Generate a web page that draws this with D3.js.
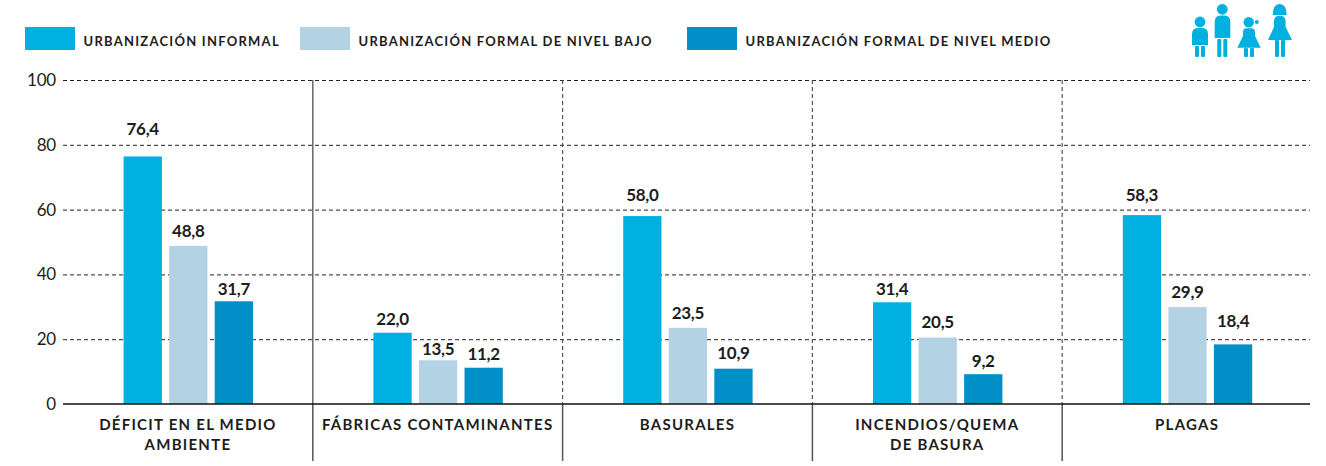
<!DOCTYPE html>
<html>

<head>
  <meta charset="utf8">
  <script src="https://d3js.org/d3.v7.min.js"></script>
  <style>
    body { margin: 0; background: #fff; }
    text { font-family: Lato, "Noto Sans", sans-serif; fill: #1d1d1b; }
    .grid line { stroke: #222; stroke-dasharray: 4 3; }
    .grid path, .y-axis path { display: none; }
    .y-axis text { font-size: 17px; letter-spacing: -0.2px; }
    .x-axis path { stroke: #111; stroke-width: 1.5; }
    .x-axis text { font-size: 15px; font-weight: 700; letter-spacing: 1.25px; }
    .value { font-size: 17px; font-weight: 700; text-anchor: middle; letter-spacing: -0.3px; }
    .legend text { font-size: 13px; font-weight: 700; letter-spacing: 1.25px; }
    .icons * { fill: #00b0e0; }
  </style>
</head>

<body>
  <svg id="chart" width="1326" height="466"></svg>

  <script>
    var categories = ['DÉFICIT EN EL MEDIO|AMBIENTE', 'FÁBRICAS CONTAMINANTES', 'BASURALES', 'INCENDIOS/QUEMA|DE BASURA', 'PLAGAS'];
    var seriesNames = ['URBANIZACIÓN INFORMAL', 'URBANIZACIÓN FORMAL DE NIVEL BAJO', 'URBANIZACIÓN FORMAL DE NIVEL MEDIO'];
    var informal = [76.4, 22.0, 58.0, 31.4, 58.3];
    var formalBajo = [48.8, 13.5, 23.5, 20.5, 29.9];
    var formalMedio = [31.7, 11.2, 10.9, 9.2, 18.4];
    var yTicks = [0, 20, 40, 60, 80, 100];
    var colors = ['#00b0e0', '#b3d3e4', '#0090c8'];
    var legendX = [25, 300, 687];

    var seriesValues = [informal, formalBajo, formalMedio];

    // the labels do not sit at a constant distance above their bars
    var labelGaps = [
      [27, 14, 21, 13, 20],
      [15, 11, 15, 16, 15],
      [12, 14, 16, 13, 23]
    ];

    var chart = d3.select('#chart');
    var left = 63, right = 1310, top_ = 80, bottom = 404;

    var x = d3.scaleBand().domain(categories).range([left, left + 1249]);
    var xInner = d3.scaleBand().domain(d3.range(3)).range([60.6, 190]).paddingInner(0.16);
    var y = d3.scaleLinear().domain([0, 100]).range([bottom, top_]);

    // dashed gridlines
    chart.append('g')
      .attr('class', 'grid')
      .attr('transform', 'translate(' + left + ', 0)')
      .call(d3.axisLeft(y).tickValues(yTicks.slice(1)).tickSize(-(right - left)).tickFormat(''));

    // group separators: dashed over the axis, solid below it
    categories.slice(1).forEach(function (c, i) {
      var sx = x(c);
      chart.append('line')
        .attr('x1', sx).attr('x2', sx)
        .attr('y1', y(100)).attr('y2', bottom)
        .attr('stroke', i === 0 ? '#666' : '#555')
        .attr('stroke-width', i === 0 ? 1.5 : 1.2)
        .attr('stroke-dasharray', i === 0 ? null : '4 3');
      chart.append('line')
        .attr('x1', sx).attr('x2', sx)
        .attr('y1', bottom).attr('y2', 461)
        .attr('stroke', '#555')
        .attr('stroke-width', 1.5);
    });

    // bars and value labels
    seriesValues.forEach(function (values, s) {
      var g = chart.append('g');
      g.selectAll('rect')
        .data(values)
        .enter().append('rect')
        .attr('x', function (d, i) { return x(categories[i]) + xInner(s); })
        .attr('y', function (d) { return y(d); })
        .attr('width', xInner.bandwidth())
        .attr('height', function (d) { return bottom - y(d); })
        .attr('fill', colors[s]);
      g.selectAll('text')
        .data(values)
        .enter().append('text')
        .attr('class', 'value')
        .attr('x', function (d, i) { return x(categories[i]) + xInner(s) + xInner.bandwidth() / 2; })
        .attr('y', function (d, i) { return y(d) - labelGaps[s][i]; })
        .attr('dy', '0.35em')
        .text(function (d) { return d3.format('.1f')(d).replace('.', ','); });
    });

    // axes
    chart.append('g')
      .attr('class', 'y-axis')
      .attr('transform', 'translate(' + left + ', 0)')
      .call(d3.axisLeft(y).tickValues(yTicks).tickSize(0).tickPadding(7));

    var xAxis = chart.append('g')
      .attr('class', 'x-axis')
      .attr('transform', 'translate(0, ' + bottom + ')')
      .call(d3.axisBottom(x).tickSize(0).tickSizeOuter(0));

    xAxis.select('.domain').attr('d', 'M' + left + ',0H' + right);

    xAxis.selectAll('.tick text').each(function (d) {
      var label = d3.select(this).text('').attr('y', 0).attr('dy', null);
      d.split('|').forEach(function (line, i) {
        label.append('tspan')
          .attr('x', 0)
          .attr('y', 26 + i * 20)
          .text(line);
      });
    });

    // legend
    var legend = chart.append('g').attr('class', 'legend');
    seriesNames.forEach(function (name, i) {
      legend.append('rect')
        .attr('x', legendX[i]).attr('y', 27)
        .attr('width', 50).attr('height', 23)
        .attr('fill', colors[i]);
      legend.append('text')
        .attr('x', legendX[i] + 58.5).attr('y', 41)
        .attr('dy', '0.35em')
        .text(name);
    });

    // family pictogram
    var icons = chart.append('g').attr('class', 'icons');
    function legs(x1, x2, y1) {
      [x1, x2].forEach(function (lx) {
        icons.append('rect').attr('x', lx).attr('y', y1).attr('width', 4).attr('height', 57 - y1).attr('rx', 1);
      });
    }
    // boy
    icons.append('circle').attr('cx', 1200).attr('cy', 22).attr('r', 5.4);
    icons.append('path').attr('d', 'M1192,45V34Q1192,28 1198,28H1202Q1208,28 1208,34V45Z');
    legs(1195, 1201, 46);
    // man
    icons.append('circle').attr('cx', 1222.3).attr('cy', 9.3).attr('r', 5.4);
    icons.append('path').attr('d', 'M1214.7,38V22Q1214.7,15.5 1220.5,15.5H1224.5Q1230.3,15.5 1230.3,22V38Z');
    legs(1217.3, 1223.3, 39);
    // girl
    icons.append('circle').attr('cx', 1248.7).attr('cy', 22.3).attr('r', 5.2);
    icons.append('circle').attr('cx', 1256.8).attr('cy', 22).attr('r', 2);
    icons.append('path').attr('d', 'M1237.3,47.7L1243,36V32Q1243,28.3 1247,28.3H1251Q1255,28.3 1255,32V36L1260.7,47.7Z');
    legs(1244, 1250, 48);
    // woman
    icons.append('path').attr('d', 'M1272.7,15Q1273,4 1279.7,4Q1286.4,4 1286.7,15Z');
    icons.append('path').attr('d', 'M1268,40L1274,27V21Q1274,15.7 1279.7,15.7Q1285.4,15.7 1285.6,21V27L1292,40Z');
    legs(1275, 1281, 40);
  </script>
</body>

</html>
